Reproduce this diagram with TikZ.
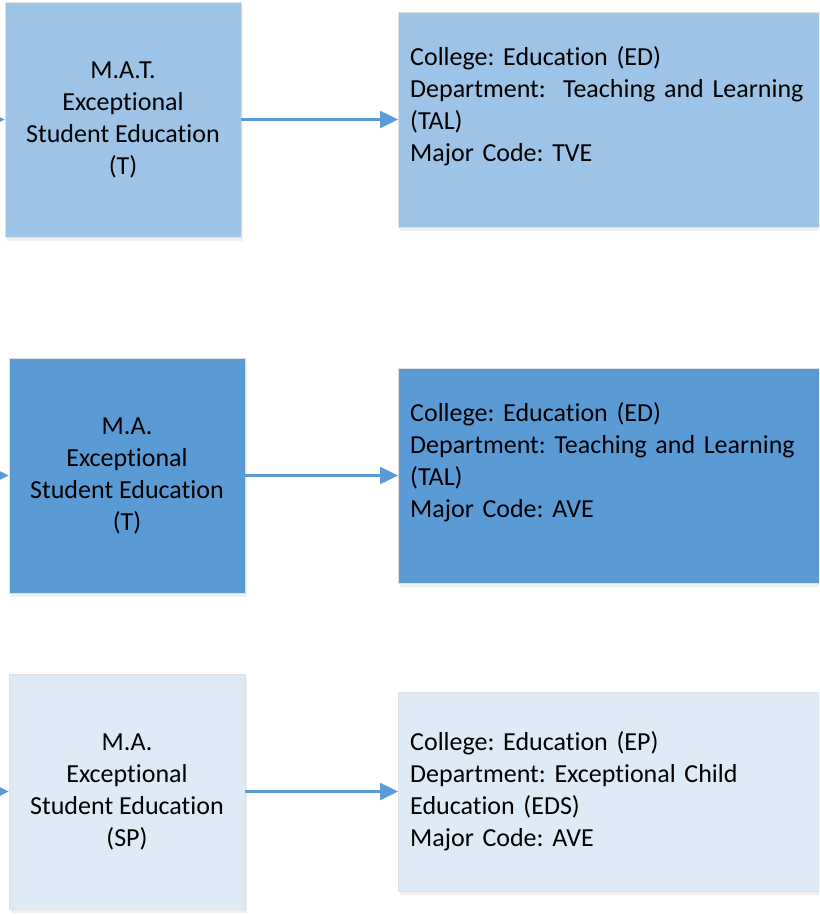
\documentclass[tikz,border=0pt]{standalone}
\usepackage{fontspec}
\setmainfont[Ligatures=NoCommon]{Carlito}
\usetikzlibrary{arrows.meta,shadows}
\definecolor{midblue}{HTML}{9DC3E6}
\definecolor{darkblue}{HTML}{5B9BD5}
\definecolor{paleblue}{HTML}{DEEBF7}
\frenchspacing
\begin{document}
\begin{tikzpicture}[x=1pt,y=-1pt,
    prog/.style={draw=black!12,line width=0.4pt,minimum width=236pt,minimum height=235pt,
      align=center,font=\fontsize{26}{32}\selectfont,
      drop shadow={opacity=0.12,shadow xshift=2pt,shadow yshift=-4pt}},
    info/.style={anchor=west,draw=black!12,line width=0.4pt,minimum height=215pt,
      text width=500pt,inner xsep=12pt,align=left,font=\fontsize{26}{32}\selectfont,
      drop shadow={opacity=0.12,shadow xshift=2pt,shadow yshift=-4pt}},
    link/.style={line width=2.5pt,draw=darkblue,-{Triangle[length=18pt,width=17pt]}}]
  \useasboundingbox (0,0) rectangle (819,915);
  \clip (0,0) rectangle (819,915);
  % teaching track, M.A.T.
  \node[prog,fill=midblue] (mat) at (123,119.5) {M.A.T.\\Exceptional\\Student Education\\(T)};
  \node[info,fill=midblue] (tve) at (398,119.5) {College: Education (ED)\\Department:\ \ Teaching and Learning\\(TAL)\\Major Code: TVE\\~};
  % teaching track, M.A.
  \node[prog,fill=darkblue] (mat2) at (127,475.5) {M.A.\\Exceptional\\Student Education\\(T)};
  \node[info,fill=darkblue] (ave) at (398,475.5) {College: Education (ED)\\Department: Teaching and Learning\\(TAL)\\Major Code: AVE\\~};
  % special programme
  \node[prog,fill=paleblue] (sp) at (127,791.5) {M.A.\\Exceptional\\Student Education\\(SP)};
  \node[info,fill=paleblue,minimum height=199pt] (eds) at (398,791.5) {College: Education (EP)\\Department: Exceptional Child\\Education (EDS)\\Major Code: AVE};
  %
  \coordinate (in1) at (-40,119.5);
  \coordinate (in2) at (-40,475.5);
  \coordinate (in3) at (-40,791.5);
  \draw[link] (in1) -- (mat.west);
  \draw[link] (in2) -- (mat2.west);
  \draw[link] (in3) -- (sp.west);
  \draw[link] (mat.east) -- (tve.west);
  \draw[link] (mat2.east) -- (ave.west);
  \draw[link] (sp.east) -- (eds.west);
\end{tikzpicture}
\end{document}
